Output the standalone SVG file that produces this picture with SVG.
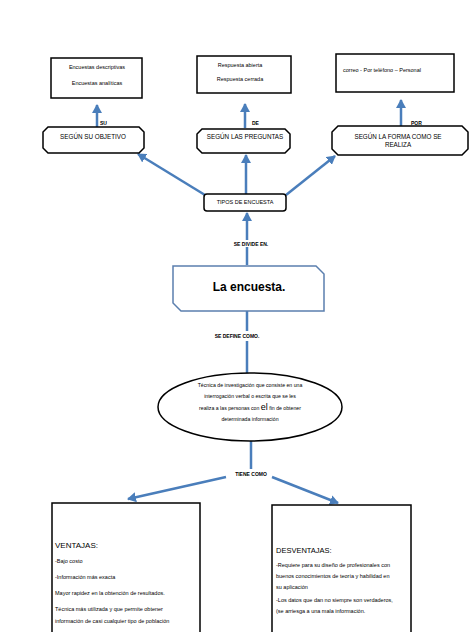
<svg xmlns="http://www.w3.org/2000/svg" width="474" height="632" viewBox="0 0 474 632">
<style>
.box{fill:#fff;stroke:#000;stroke-width:1.5}
.t{font-family:"Liberation Sans",Arial,sans-serif;fill:#000}
.s{font-size:5.5px}
.m{font-size:6.3px}
.lb{font-size:5px;font-weight:bold}
.c{stroke:#4a7ebb;stroke-width:2.5;fill:none}
</style>
<defs>
<marker id="ah" markerUnits="userSpaceOnUse" markerWidth="10" markerHeight="10" refX="8" refY="5" orient="auto">
<path d="M0,0 L9,5 L0,10 Z" fill="#4a7ebb"/>
</marker>
</defs>
<rect width="474" height="632" fill="#fff"/>
<g id="connectors">
<line class="c" x1="97" y1="127" x2="97" y2="105" marker-end="url(#ah)"/>
<line class="c" x1="245" y1="128" x2="245" y2="104" marker-end="url(#ah)"/>
<line class="c" x1="401" y1="126" x2="401" y2="100" marker-end="url(#ah)"/>
<line class="c" x1="205" y1="195" x2="138" y2="154" marker-end="url(#ah)"/>
<line class="c" x1="246" y1="194" x2="246" y2="155" marker-end="url(#ah)"/>
<line class="c" x1="286" y1="195" x2="335" y2="156" marker-end="url(#ah)"/>
<line class="c" x1="247" y1="265" x2="247" y2="213" marker-end="url(#ah)"/>
<line class="c" x1="247" y1="311" x2="247" y2="331"/>
<line class="c" x1="247" y1="341" x2="247" y2="373"/>
<line class="c" x1="251" y1="441" x2="251" y2="469"/>
<line class="c" x1="226" y1="477" x2="128" y2="499" marker-end="url(#ah)"/>
<line class="c" x1="272" y1="477" x2="338" y2="503" marker-end="url(#ah)"/>
</g>
<g id="lbl-su"><text class="t lb" x="100" y="125">SU</text></g>
<g id="lbl-de"><text class="t lb" x="252" y="125">DE</text></g>
<g id="lbl-por"><text class="t lb" x="411" y="125">POR</text></g>
<g id="lbl-divide"><rect x="229" y="240" width="44" height="7" fill="#fff"/><text class="t lb" x="251" y="246" text-anchor="middle">SE DIVIDE EN.</text></g>
<g id="lbl-define"><text class="t lb" x="237" y="338" text-anchor="middle">SE DEFINE COMO.</text></g>
<g id="lbl-tiene"><text class="t lb" x="251" y="476" text-anchor="middle">TIENE COMO</text></g>
<g id="n-objetivo-items">
<rect class="box" x="51" y="58" width="91" height="40"/>
<text class="t s" x="97" y="69" text-anchor="middle">Encuestas descriptivas</text>
<text class="t s" x="97" y="85" text-anchor="middle">Encuestas analíticas</text>
</g>
<g id="n-preguntas-items">
<rect class="box" x="197" y="56" width="94" height="37"/>
<text class="t s" x="240" y="67" text-anchor="middle">Respuesta abierta</text>
<text class="t s" x="240" y="81" text-anchor="middle">Respuesta cerrada</text>
</g>
<g id="n-forma-items">
<rect class="box" x="336" y="54" width="118" height="38"/>
<text class="t s" x="343" y="72">correo - Por teléfono – Personal</text>
</g>
<g id="n-objetivo">
<path class="box" d="M48,127 L139,127 L144,132 L144,148 L139,153 L48,153 L43,148 L43,132 Z"/>
<text class="t m" x="93" y="139" text-anchor="middle">SEGÚN SU OBJETIVO</text>
</g>
<g id="n-preguntas">
<path class="box" d="M202,129 L285,129 L290,134 L290,148 L285,153 L202,153 L197,148 L197,134 Z"/>
<text class="t m" x="245" y="139" text-anchor="middle">SEGÚN LAS PREGUNTAS</text>
</g>
<g id="n-forma">
<path class="box" d="M338,126 L462,126 L468,132 L468,149 L462,155 L338,155 L332,149 L332,132 Z"/>
<text class="t m" x="398" y="139" text-anchor="middle">SEGÚN LA FORMA COMO SE</text>
<text class="t m" x="398" y="147" text-anchor="middle">REALIZA</text>
</g>
<g id="n-tipos">
<rect class="box" x="204" y="194" width="82" height="17" rx="3"/>
<text class="t" font-size="5.5" x="245" y="204" text-anchor="middle">TIPOS DE ENCUESTA</text>
</g>
<g id="n-encuesta">
<path d="M173,266 L316,266 L324,274 L324,311 L181,311 L173,303 Z" fill="#fff" stroke="#5b7fae" stroke-width="1.5"/>
<text class="t" font-size="12" font-weight="bold" x="249" y="291" text-anchor="middle">La encuesta.</text>
</g>
<g id="n-definicion">
<ellipse cx="250" cy="407" rx="92" ry="34" fill="#fff" stroke="#000" stroke-width="1.5"/>
<text class="t" font-size="5.2" x="250" y="387" text-anchor="middle">Técnica de investigación que consiste en una</text>
<text class="t" font-size="5.2" x="250" y="398" text-anchor="middle">interrogación verbal o escrita que se les</text>
<text class="t" font-size="5.2" x="250" y="410" text-anchor="middle">realiza a las personas con <tspan font-size="9">el</tspan> fin de obtener</text>
<text class="t" font-size="5.2" x="250" y="421" text-anchor="middle">determinada información</text>
</g>
<g id="n-ventajas">
<rect class="box" x="52" y="503" width="148" height="140"/>
<text class="t" font-size="8" x="55" y="548">VENTAJAS:</text>
<text class="t" font-size="5.5" x="55" y="563">-Bajo costo</text>
<text class="t" font-size="5.5" x="55" y="579">-Información más exacta</text>
<text class="t" font-size="5.5" x="55" y="595">Mayor rapidez en la obtención de resultados.</text>
<text class="t" font-size="5.5" x="55" y="611">Técnica más utilizada y que permite obtener</text>
<text class="t" font-size="5.5" x="55" y="623">información de casi cualquier tipo de población</text>
</g>
<g id="n-desventajas">
<rect class="box" x="272" y="505" width="139" height="140"/>
<text class="t" font-size="7.5" x="276" y="553">DESVENTAJAS:</text>
<text class="t" font-size="5.5" x="276" y="567">-Requiere para su diseño de profesionales con</text>
<text class="t" font-size="5.5" x="276" y="578">buenos conocimientos de teoría y habilidad en</text>
<text class="t" font-size="5.5" x="276" y="589">su aplicación</text>
<text class="t" font-size="5.5" x="276" y="602">-Los datos que dan no siempre son verdaderos,</text>
<text class="t" font-size="5.5" x="276" y="613">(se arriesga a una mala información.</text>
</g>
</svg>
